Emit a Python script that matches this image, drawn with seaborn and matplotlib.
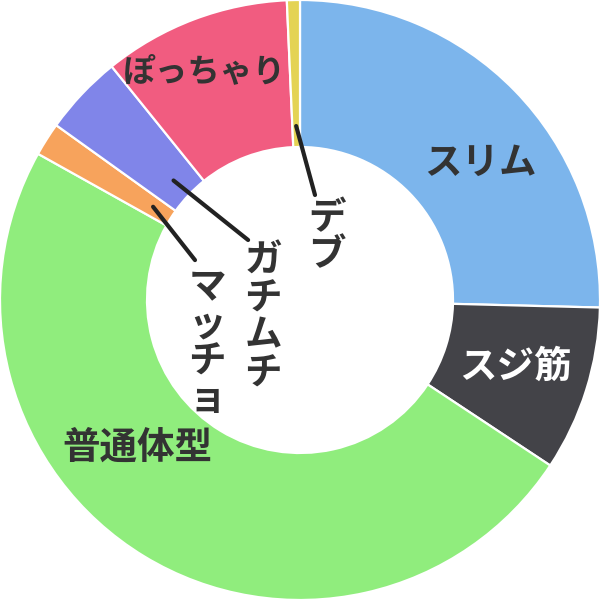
import numpy as np
import seaborn as sns
import matplotlib
matplotlib.use("Agg")
import matplotlib.pyplot as plt

# data (percent), clockwise from 12 o'clock
categories = ["スリム", "スジ筋", "普通体型", "マッチョ", "ガチムチ", "ぽっちゃり", "デブ"]
values = [25.4, 8.9, 48.8, 1.8, 4.3, 10.1, 0.7]
colors = ["#7cb5ec", "#434348", "#90ed7d", "#f7a35c", "#8085e9", "#f15c80", "#e4d354"]

sns.set_theme(style="white")
plt.rcParams['font.family'] = ['Noto Sans CJK JP', 'DejaVu Sans']

fig = plt.figure(figsize=(6, 6), dpi=100)
ax = fig.add_axes([0, 0, 1, 1])
wedges, _ = ax.pie(values, colors=colors, startangle=90, counterclock=False,
                   radius=1.0, wedgeprops=dict(width=0.49, edgecolor="white", linewidth=1.6))
ax.set_xlim(-1, 1)
ax.set_ylim(-1, 1)
ax.set_aspect("equal")
ax.axis("off")

# labels inside the big slices (data coords, font size, colour)
inside = {
    "スリム": (0.603, 0.46, 27, "#333333"),
    "スジ筋": (0.717, -0.22, 27, "white"),
    "普通体型": (-0.543, -0.49, 27, "#333333"),
    "ぽっちゃり": (-0.317, 0.762, 23.5, "#333333"),
}
for name, (x, y, fs, c) in inside.items():
    ax.text(x, y, name, ha="center", va="center", fontsize=fs,
            fontweight="bold", color=c)

# small slices: leader line from the ring to vertical text in the hole
outside = {
    "マッチョ": ((-0.35, 0.133), (-0.31, 0.11)),
    "ガチムチ": ((-0.173, 0.2), (-0.123, 0.197)),
    "デブ": ((0.05, 0.35), (0.09, 0.34)),
}
for w, name in zip(wedges, categories):
    if name not in outside:
        continue
    mid = np.deg2rad((w.theta1 + w.theta2) / 2)
    sx, sy = 0.58 * np.cos(mid), 0.58 * np.sin(mid)
    (ex, ey), (tx, ty) = outside[name]
    ax.plot([sx, ex], [sy, ey], color="#222222", lw=3, solid_capstyle="round")
    ax.text(tx, ty, "\n".join(name), ha="center", va="top", fontsize=27,
            fontweight="bold", color="#333333", linespacing=0.95)

fig.savefig("out.png", dpi=100)
